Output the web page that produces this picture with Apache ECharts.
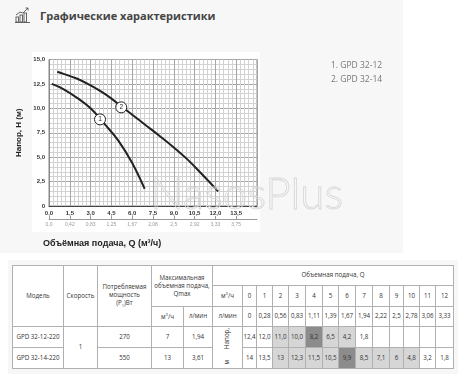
<!DOCTYPE html>
<html><head><meta charset="utf-8">
<script src="https://cdn.jsdelivr.net/npm/echarts@6/dist/echarts.min.js"></script>
<style>
html,body{margin:0;padding:0;background:#fff;width:469px;height:390px;overflow:hidden;}
#topbg{position:absolute;left:0;top:0;width:403px;height:253px;background:#f7f7f7;}
#tblbg{position:absolute;left:8px;top:260px;width:450px;height:114px;background:#f7f7f7;}
#chart{position:absolute;left:0;top:0;width:469px;height:255px;}
#title{position:absolute;left:40px;top:8px;font:bold 11px "Open Sans",sans-serif;color:#444;white-space:nowrap;}
#icon{position:absolute;left:15px;top:7px;}
#tbl{position:absolute;left:12px;top:265px;border-collapse:collapse;table-layout:fixed;background:#fff;font-family:"Open Sans",sans-serif;font-size:6.2px;color:#333;}
#tbl td{border:1px solid #b0b0b0;text-align:center;vertical-align:middle;padding:0;line-height:1.3;overflow:hidden;white-space:nowrap;}
#tbl{border:1.5px solid #666;}
#tbl td.l{background:#d6d6d6;}
#tbl td.d{background:#8c8c8c;}
.vt{display:inline-block;writing-mode:vertical-rl;transform:rotate(180deg);}
</style></head>
<body>
<div id="topbg"></div>
<div id="tblbg"></div>
<svg id="icon" width="16" height="16" viewBox="0 0 16 16">
  <rect x="1" y="10" width="2.5" height="5" fill="none" stroke="#555" stroke-width="0.9"/>
  <rect x="5" y="8" width="2.5" height="7" fill="none" stroke="#555" stroke-width="0.9"/>
  <rect x="9" y="6" width="2.5" height="9" fill="none" stroke="#555" stroke-width="0.9"/>
  <polyline points="1,8 5,5 8,6 13,1" fill="none" stroke="#555" stroke-width="0.9"/>
  <polyline points="10.5,1 13,1 13,3.5" fill="none" stroke="#555" stroke-width="0.9"/>
  <line x1="0" y1="15.5" x2="15" y2="15.5" stroke="#555" stroke-width="0.9"/>
</svg>
<div id="title">Графические характеристики</div>
<div id="chart"></div>
<table id="tbl">
<colgroup>
<col style="width:51px"><col style="width:34px"><col style="width:54px"><col style="width:32px"><col style="width:29px"><col style="width:30px">
<col style="width:14px"><col style="width:16px"><col style="width:16px"><col style="width:17px"><col style="width:17px"><col style="width:16px"><col style="width:17px"><col style="width:17px"><col style="width:17px"><col style="width:14px"><col style="width:16px"><col style="width:16px"><col style="width:18px">
</colgroup>
<tbody id="tb"></tbody>
</table>
<script>
// ---- chart data ----
const curve1Name = 'GPD 32-12';
const curve2Name = 'GPD 32-14';
const curve1Q = [0.2, 1, 2, 3, 4, 5, 6, 6.9];
const curve1H = [12.5, 12.0, 11.1, 10.0, 8.4, 6.7, 4.4, 1.75];
const curve2Q = [0.6, 1, 2, 3, 4, 5, 6, 7, 8, 9, 10, 11, 12.2];
const curve2H = [13.75, 13.55, 13.05, 12.35, 11.5, 10.45, 9.35, 8.25, 7.15, 6.0, 4.75, 3.3, 1.5];
const markerLabels = ['1', '2'];
const markerQ = [3.68, 5.21];
const markerH = [8.87, 10.1];
const lsLabels = ['0,0','0,42','0,83','1,25','1,67','2,08','2,5','2,92','3,33','3,75'];

// ---- table data ----
const tblQm3h = ['0','1','2','3','4','5','6','7','8','9','10','11','12'];
const tblQlmin = ['0','0,28','0,56','0,83','1,11','1,39','1,67','1,94','2,22','2,5','2,78','3,06','3,33'];
const models = ['GPD 32-12-220', 'GPD 32-14-220'];
const powers = ['270', '550'];
const qmaxM3h = ['7', '13'];
const qmaxLmin = ['1,94', '3,61'];
const head1 = ['12,4','12,0','11,0','10,0','8,2','6,5','4,2','1,8','','','','',''];
const head2 = ['14','13,5','13','12,3','11,5','10,5','9,9','8,5','7,1','6','4,8','3,2','1,8'];
const shade1 = ['','','l','l','d','l','l','','','','','',''];
const shade2 = ['','','l','l','l','l','d','l','l','l','l','',''];

// build table
const tb = document.getElementById('tb');
let h = '';
h += '<tr style="height:20px"><td rowspan="3">Модель</td><td rowspan="3">Скорость</td><td rowspan="3">Потребляемая<br>мощность<br>(P<sub style="font-size:4px">1</sub>)Вт</td><td rowspan="2" colspan="2">Максимальная<br>объемная подача,<br>Qmax</td><td colspan="14">Объемная подача, Q</td></tr>';
h += '<tr style="height:21px"><td>м<sup style="font-size:4px">3</sup>/ч</td>' + tblQm3h.map(v => '<td>' + v + '</td>').join('') + '</tr>';
h += '<tr style="height:20px"><td>м<sup style="font-size:4px">3</sup>/ч</td><td>л/мин</td><td>л/мин</td>' + tblQlmin.map(v => '<td>' + v + '</td>').join('') + '</tr>';
h += '<tr style="height:21px"><td>' + models[0] + '</td><td rowspan="2">1</td><td>' + powers[0] + '</td><td>' + qmaxM3h[0] + '</td><td>' + qmaxLmin[0] + '</td><td rowspan="2"><span class="vt">Напор,</span><br><br><span class="vt">м</span></td>' + head1.map((v, i) => '<td class="' + shade1[i] + '">' + v + '</td>').join('') + '</tr>';
h += '<tr style="height:21px"><td>' + models[1] + '</td><td>' + powers[1] + '</td><td>' + qmaxM3h[1] + '</td><td>' + qmaxLmin[1] + '</td>' + head2.map((v, i) => '<td class="' + shade2[i] + '">' + v + '</td>').join('') + '</tr>';
tb.innerHTML = h;

// build chart
const fmt = v => v === 0 ? '0,0' : v.toFixed(1).replace('.', ',');
const chart = echarts.init(document.getElementById('chart'), null, {renderer: 'canvas'});
const pts = (qs, hs) => qs.map((q, i) => [q, hs[i]]);
chart.setOption({
  animation: false,
  textStyle: {fontFamily: 'Liberation Sans'},
  graphic: [
    {type: 'rect', z: -10, shape: {x: 32, y: 52, width: 228, height: 180}, style: {fill: '#ffffff'}},
    {type: 'text', z: 100, left: 150, top: 172, style: {text: 'NasosPlus', font: '300 44px Lato', fill: 'rgba(0,0,0,0)', stroke: '#d6d6d6', lineWidth: 0.8}},
    {type: 'text', left: 43, top: 239, style: {text: 'Объёмная подача, Q (м³/ч)', font: 'bold 9px "Liberation Sans"', fill: '#222'}}
  ],
  legend: {
    orient: 'vertical', left: 320, top: 56, itemWidth: 0, itemHeight: 0, itemGap: 5,
    data: [curve1Name, curve2Name],
    formatter: n => (n === curve1Name ? '1. ' : '2. ') + n,
    textStyle: {fontSize: 8.5, color: '#777', fontFamily: 'Open Sans'},
    itemStyle: {opacity: 0}, lineStyle: {opacity: 0}
  },
  grid: {left: 49, top: 59.5, width: 208, height: 146.5, show: true, borderColor: '#888', borderWidth: 1, backgroundColor: '#fff'},
  xAxis: [
    {type: 'value', min: 0, max: 15, interval: 1.5, position: 'bottom',
     axisLine: {show: true, lineStyle: {color: '#444'}}, axisTick: {show: false},
     axisLabel: {formatter: fmt, showMaxLabel: false, fontSize: 6, fontWeight: 'bold', color: '#333', margin: 4},
     splitLine: {show: true, lineStyle: {color: '#a6a6a6', width: 1}},
     minorTick: {show: false, splitNumber: 5},
     minorSplitLine: {show: true, lineStyle: {color: '#d2d2d2', width: 1}}},
    {type: 'value', min: 0, max: 15, interval: 1.5, position: 'bottom', offset: 13,
     axisLine: {show: true, lineStyle: {color: '#999'}},
     axisTick: {show: true, inside: true, length: 3, lineStyle: {color: '#999'}},
     axisLabel: {formatter: v => lsLabels[Math.round(v / 1.5)] || '', showMaxLabel: false, fontSize: 5, color: '#999', margin: 3},
     splitLine: {show: false}}
  ],
  yAxis: {type: 'value', min: 0, max: 15, interval: 2.5,
    name: 'Напор, H (м)', nameLocation: 'middle', nameGap: 26,
    nameTextStyle: {fontSize: 8, fontWeight: 'bold', color: '#222'},
    axisLine: {show: true, lineStyle: {color: '#888'}}, axisTick: {show: false},
    axisLabel: {formatter: v => v === 0 ? '0' : v.toFixed(1).replace('.', ','), fontSize: 6, fontWeight: 'bold', color: '#333', margin: 4},
    splitLine: {show: true, lineStyle: {color: '#a6a6a6', width: 1}},
    minorTick: {show: false, splitNumber: 5},
    minorSplitLine: {show: true, lineStyle: {color: '#d2d2d2', width: 1}}},
  series: [
    {name: curve1Name, type: 'line', smooth: 0.4, showSymbol: false, data: pts(curve1Q, curve1H), lineStyle: {color: '#222', width: 2}, itemStyle: {color: '#222'}},
    {name: curve2Name, type: 'line', smooth: 0.4, showSymbol: false, data: pts(curve2Q, curve2H), lineStyle: {color: '#222', width: 2}, itemStyle: {color: '#222'}},
    {name: 'markers', type: 'scatter', z: 5, symbolSize: 11,
     data: markerQ.map((q, i) => ({value: [q, markerH[i]], label: {formatter: markerLabels[i]}})),
     itemStyle: {color: '#fff', borderColor: '#222', borderWidth: 1, opacity: 1},
     label: {show: true, position: 'inside', fontSize: 6.5, color: '#222'}}
  ]
});
</script>
</body></html>
